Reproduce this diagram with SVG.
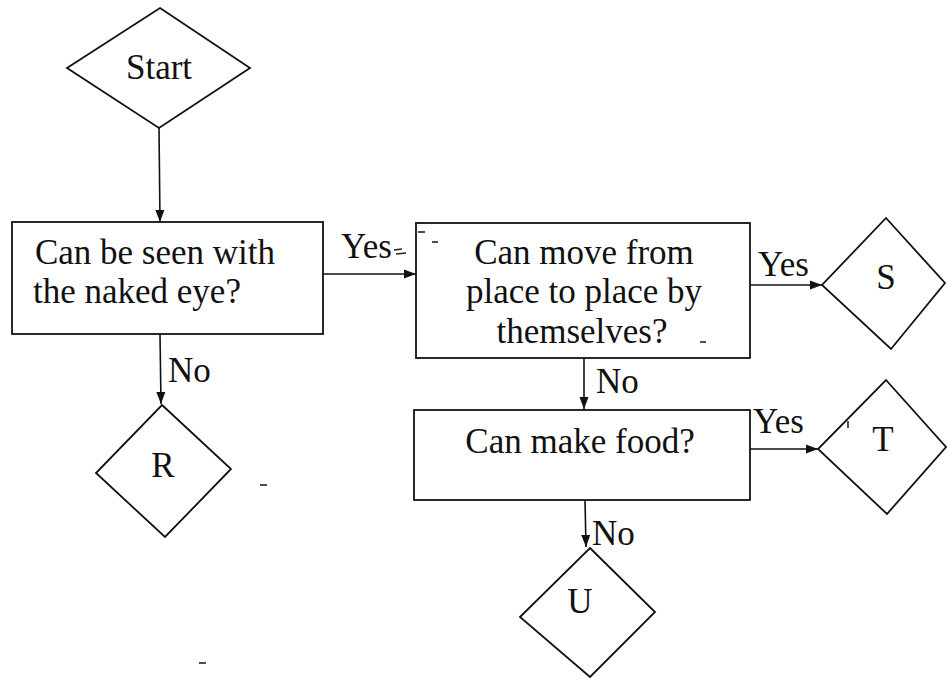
<svg xmlns="http://www.w3.org/2000/svg" width="947" height="679" viewBox="0 0 947 679">
<style>
.shape{fill:none;stroke:#111;stroke-width:1.8}
.conn{fill:none;stroke:#111;stroke-width:1.6}
.c{text-anchor:middle}
.noise{stroke:#222;stroke-width:1.6}
</style>
<defs>
<marker id="ah" viewBox="0 0 12 10" refX="12" refY="5" markerWidth="12" markerHeight="10" markerUnits="userSpaceOnUse" orient="auto">
<path d="M0,0.5 L12,5 L0,9.5 Z" fill="#111"/>
</marker>
</defs>
<rect width="947" height="679" fill="#fff"/>
<g font-family="Liberation Serif, DejaVu Serif, serif" font-size="35" fill="#111">
<g id="start">
<polygon class="shape" points="160,8 250,68 159,128 67,68"/>
<text class="c" x="159" y="79">Start</text>
</g>
<g id="q1">
<rect class="shape" x="12" y="222" width="311" height="112"/>
<text class="c" x="155" y="264">Can be seen with</text>
<text x="33" y="303">the naked eye?</text>
</g>
<g id="q2">
<rect class="shape" x="416" y="223" width="334" height="135"/>
<text class="c" x="584" y="264">Can move from</text>
<text class="c" x="584" y="303">place to place by</text>
<text class="c" x="582" y="343">themselves?</text>
</g>
<g id="q3">
<rect class="shape" x="414" y="410" width="336" height="90"/>
<text class="c" x="580" y="453">Can make food?</text>
</g>
<g id="r">
<polygon class="shape" points="162,405 231,469 165,537 96,473"/>
<text class="c" x="163" y="477">R</text>
</g>
<g id="s">
<polygon class="shape" points="886,218 945,283 891,349 822,285"/>
<text class="c" x="886" y="289">S</text>
</g>
<g id="t">
<polygon class="shape" points="886,380 946,447 887,514 818,449"/>
<text class="c" x="883" y="451">T</text>
</g>
<g id="u">
<polygon class="shape" points="590,548 655,612 590,677 520,617"/>
<text class="c" x="580" y="613">U</text>
</g>
<g id="connectors">
<line class="conn" x1="159" y1="128" x2="160" y2="222" marker-end="url(#ah)"/>
<line class="conn" x1="160" y1="334" x2="161" y2="404" marker-end="url(#ah)"/>
<line class="conn" x1="323" y1="274" x2="416" y2="274" marker-end="url(#ah)"/>
<line class="conn" x1="750" y1="285" x2="822" y2="285" marker-end="url(#ah)"/>
<line class="conn" x1="584" y1="358" x2="584" y2="409" marker-end="url(#ah)"/>
<line class="conn" x1="750" y1="449" x2="818" y2="449" marker-end="url(#ah)"/>
<line class="conn" x1="585" y1="500" x2="586" y2="547" marker-end="url(#ah)"/>
<text x="168" y="382">No</text>
<text x="341" y="258">Yes</text>
<text x="758" y="276">Yes</text>
<text x="596" y="393">No</text>
<text x="753" y="433">Yes</text>
<text x="592" y="545">No</text>
</g>
</g>
<g id="marks">
<line class="noise" x1="394" y1="250" x2="402" y2="249"/>
<line class="noise" x1="396" y1="254" x2="406" y2="253"/>
<line class="noise" x1="418" y1="232" x2="425" y2="232"/>
<line class="noise" x1="432" y1="242" x2="438" y2="242"/>
<line class="noise" x1="700" y1="342" x2="706" y2="342"/>
<line class="noise" x1="260" y1="485" x2="267" y2="485"/>
<line class="noise" x1="199" y1="663" x2="206" y2="663"/>
<line class="noise" x1="848" y1="421" x2="848" y2="428"/>
</g>
</svg>
